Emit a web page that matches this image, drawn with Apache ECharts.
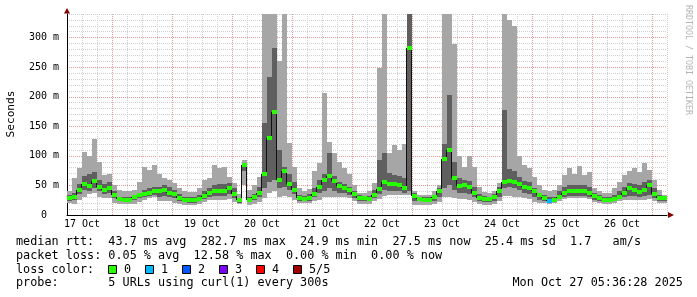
<!DOCTYPE html>
<html><head><meta charset="utf-8">
<script src="https://cdn.jsdelivr.net/npm/echarts@6/dist/echarts.min.js"></script>
<style>html,body{margin:0;padding:0;background:#fff}#c{width:697px;height:297px}</style>
</head><body><div id="c"></div>
<script>
// ---- data (2-hour steps, hours counted from 17 Oct 00:00) ----
const dayLabels = ['17 Oct','18 Oct','19 Oct','20 Oct','21 Oct','22 Oct','23 Oct','24 Oct','25 Oct','26 Oct'];
const yLabelValues = [0,50,100,150,200,250,300];
const dayBoundaries = [24,48,72,96,120,144,168,192,216,240];

const median = [28,30,42,52,49,57,47,42,45,33, 27,26,26,30,34,36,37,40,40,42, 38,35,29,26,25,25,27,32,37,41, 41,41,46,36,25,84,26,30,38,70, 130,175,60,75,52,42,28,27,29,36, 47,59,66,58,49,46,43,35,29,28, 27,33,44,55,52,52,50,46,282,32, 27,26,26,30,40,95,110,62,49,50, 47,37,29,27,27,31,40,55,58,55, 52,47,46,40,33,28,24,26,31,37, 40,41,41,40,37,32,28,25,25,27, 31,37,45,42,39,42,50,36,28,28];
const smokeMin = [20,18,25,31,35,37,31,28,28,20, 18,18,18,19,22,25,28,30,24,24, 23,21,18,17,17,17,19,22,25,26, 26,26,27,22,19,50,17,19,22,28, 38,40,30,32,30,25,21,21,21,23, 26,30,31,31,31,31,29,24,19,19, 19,23,27,32,34,34,34,34,34,17, 17,17,17,18,22,30,30,28,27,27, 25,22,19,17,17,19,23,32,32,31, 30,28,27,22,20,20,19,20,24,27, 28,28,28,28,27,22,20,19,19,20, 24,25,26,26,26,26,27,24,21,20];
const smokeLo = [24,26,35,42,40,45,40,36,38,28, 24,23,23,25,28,30,32,34,31,32, 31,28,24,22,21,21,23,27,30,32, 32,32,35,28,21,75,22,25,30,45, 55,60,45,47,42,35,24,23,24,30, 37,41,45,41,37,37,34,29,24,24, 23,28,36,42,40,40,40,38,40,24, 23,22,22,24,30,45,50,42,38,38, 36,31,24,22,22,24,30,45,48,45, 42,38,36,30,26,23,22,23,27,31, 32,32,32,32,31,26,23,22,22,23, 27,30,32,32,31,32,34,29,24,23];
const smokeHi = [33,38,52,66,70,72,60,52,55,40, 31,30,30,34,38,42,45,48,48,50, 47,42,35,31,30,30,33,40,45,50, 52,52,54,45,28,88,30,36,48,156, 234,283,110,81,70,55,34,32,35,45, 59,69,105,66,55,53,47,40,33,32, 32,42,93,105,71,68,66,62,340,37, 31,30,30,33,46,120,203,90,62,60, 58,48,35,32,31,36,48,178,78,75, 65,58,56,45,38,33,30,31,40,48, 51,51,51,50,48,38,33,30,30,33, 40,48,54,52,50,56,59,45,34,31];
const smokeMax = [40,62,80,107,99,129,90,68,70,50, 42,40,40,42,55,82,76,85,70,62, 59,54,45,40,39,39,45,60,62,85, 79,82,65,54,35,93,42,51,65,340, 340,340,260,340,122,82,45,40,44,75, 88,206,124,105,90,80,70,51,37,37, 40,54,249,340,105,119,110,120,340,40, 34,34,34,40,50,340,340,290,99,82, 99,82,48,39,37,40,54,340,330,320, 100,85,80,65,50,42,40,42,50,68, 79,70,83,68,73,45,40,37,37,45, 55,68,74,79,72,88,76,60,42,34];
const lossCount = [0,0,0,0,0,0,0,0,0,0, 0,0,0,0,0,0,0,0,0,0, 0,0,0,0,0,0,0,0,0,0, 0,0,0,0,0,0,0,0,0,0, 0,0,0,0,0,0,0,0,0,0, 0,0,0,0,0,0,0,0,0,0, 0,0,0,0,0,0,0,0,0,0, 0,0,0,0,0,0,0,0,0,0, 0,0,0,0,0,0,0,0,0,0, 0,0,0,0,0,0,1,0,0,0, 0,0,0,0,0,0,0,0,0,0, 0,0,0,0,0,0,0,0,0,0];
const lossColors = ['#26ff00','#00b8ff','#0059ff','#7e00ff','#ff0000','#a10000'];
const lossLabels = ['0','1','2','3','4','5/5'];
const statLines = [
  'median rtt:  43.7 ms avg  282.7 ms max  24.9 ms min  27.5 ms now  25.4 ms sd  1.7   am/s',
  'packet loss: 0.05 % avg  12.58 % max  0.00 % min  0.00 % now',
  'loss color:',
  'probe:       5 URLs using curl(1) every 300s'
];
const dateText = 'Mon Oct 27 05:36:28 2025';

// ---- build ----
const START_HOUR = 6, STEP_HOURS = 2;
const tStart = k => START_HOUR + k * STEP_HOURS;
const lightData = median.map((_, k) => [tStart(k), tStart(k + 1), smokeMin[k], smokeMax[k]]);
const darkData = median.map((_, k) => [tStart(k), tStart(k + 1), smokeLo[k], smokeHi[k]]);
const medData = median.map((m, k) => [tStart(k), tStart(k + 1), m, lossCount[k]]);
const connData = median.slice(0, -1).map((m, k) => [tStart(k + 1), m, median[k + 1]]);

const MONO = 'DejaVu Sans Mono';
const GRID_MINOR = '#cfcfcf';
const GRID_MAJOR = '#e39a9a';

function bandRender(color) {
  return function (params, api) {
    const a = api.coord([api.value(0), api.value(3)]);
    const b = api.coord([api.value(1), api.value(2)]);
    const x0 = Math.round(a[0]), x1 = Math.round(b[0]);
    const y0 = Math.round(a[1]), y1 = Math.round(b[1]);
    return { type: 'rect', shape: { x: x0, y: y0, width: x1 - x0, height: y1 - y0 }, style: { fill: color } };
  };
}

const chart = echarts.init(document.getElementById('c'), null, { renderer: 'canvas' });
const textFont = '11.8px "' + MONO + '"';
const graphic = [];
const lineY = [241.5, 255.5, 269.5, 283];
statLines.forEach((s, i) => {
  graphic.push({ type: 'text', x: 16, y: lineY[i], silent: true,
    style: { text: s, font: textFont, fill: '#000', textAlign: 'left', textVerticalAlign: 'middle' } });
});
lossLabels.forEach((lab, i) => {
  const bx = 108 + 37 * i;
  graphic.push({ type: 'rect', silent: true, shape: { x: bx + 0.5, y: 265.5, width: 8, height: 8 },
    style: { fill: lossColors[i], stroke: '#000', lineWidth: 1 } });
  graphic.push({ type: 'text', x: bx + 16, y: lineY[2], silent: true,
    style: { text: lab, font: textFont, fill: '#000', textAlign: 'left', textVerticalAlign: 'middle' } });
});
graphic.push({ type: 'text', x: 512.5, y: lineY[3], silent: true,
  style: { text: dateText, font: textFont, fill: '#000', textAlign: 'left', textVerticalAlign: 'middle' } });
graphic.push({ type: 'text', x: 11, y: 114, rotation: Math.PI / 2, silent: true,
  style: { text: 'Seconds', font: '11.2px "' + MONO + '"', fill: '#000', textAlign: 'center', textVerticalAlign: 'middle' } });
graphic.push({ type: 'text', x: 688.5, y: 60, rotation: -Math.PI / 2, silent: true,
  style: { text: 'RRDTOOL / TOBI OETIKER', font: '8.3px "' + MONO + '"', fill: '#b4b4b4', textAlign: 'center', textVerticalAlign: 'middle' } });
// axis arrows
graphic.push({ type: 'polygon', silent: true, shape: { points: [[67, 8], [64, 13.5], [70, 13.5]] }, style: { fill: '#800000' } });
graphic.push({ type: 'polygon', silent: true, shape: { points: [[674, 215], [668, 212], [668, 218]] }, style: { fill: '#800000' } });

const option = {
  animation: false,
  grid: { left: 67, right: 30, top: 14, bottom: 82, containLabel: false, outerBoundsMode: 'none' },
  xAxis: [{
    type: 'value', min: 6, max: 246, interval: 6,
    axisLine: { show: true, onZero: false, lineStyle: { color: '#000', width: 1 } },
    axisTick: { show: false },
    axisLabel: {
      fontFamily: MONO, fontSize: 10, color: '#000', margin: 4, hideOverlap: false,
      formatter: v => { const h = v - 12; return (h % 24 === 0 && dayLabels[h / 24]) ? dayLabels[h / 24] : ''; }
    },
    splitLine: { show: true, lineStyle: { color: GRID_MINOR, type: [1, 1], width: 1 } }
  }, {
    type: 'value', min: 6, max: 246, position: 'bottom',
    axisLine: { show: false },
    axisTick: { show: false, customValues: dayBoundaries },
    axisLabel: { show: false },
    splitLine: { show: true, lineStyle: { color: GRID_MAJOR, type: [1, 1], width: 1 } }
  }],
  yAxis: [{
    type: 'value', min: 0, max: 340, interval: 10, position: 'left',
    axisLine: { show: true, lineStyle: { color: '#000', width: 1 } },
    axisTick: { show: false },
    axisLabel: {
      fontFamily: MONO, fontSize: 10, color: '#000', margin: 8,
      formatter: v => yLabelValues.indexOf(v) >= 0 ? (v === 0 ? '0  ' : v + ' m') : ''
    },
    splitLine: { show: true, lineStyle: { color: GRID_MINOR, type: [1, 1], width: 1 } }
  }, {
    type: 'value', min: 0, max: 340, interval: 50, position: 'left',
    axisLine: { show: false }, axisTick: { show: false }, axisLabel: { show: false },
    splitLine: { show: true, showMaxLine: false, showMinLine: false, lineStyle: { color: GRID_MAJOR, type: [1, 1], width: 1 } }
  }],
  series: [
    { type: 'custom', name: 'smoke', data: lightData, encode: { x: [0, 1], y: [2, 3] }, z: 2, silent: true,
      renderItem: bandRender('#a6a6a6') },
    { type: 'custom', name: 'smoke inner', data: darkData, encode: { x: [0, 1], y: [2, 3] }, z: 3, silent: true,
      renderItem: bandRender('#5f5f5f') },
    { type: 'custom', name: 'median link', data: connData, encode: { x: 0, y: [1, 2] }, z: 4, silent: true,
      renderItem: function (params, api) {
        const a = api.coord([api.value(0), api.value(1)]);
        const b = api.coord([api.value(0), api.value(2)]);
        const x = Math.round(a[0]) - 0.5;
        return { type: 'line', shape: { x1: x, y1: Math.round(a[1]), x2: x, y2: Math.round(b[1]) },
          style: { stroke: '#101010', lineWidth: 1 } };
      } },
    { type: 'custom', name: 'median rtt', data: medData, encode: { x: [0, 1], y: 2 }, z: 5, silent: true,
      renderItem: function (params, api) {
        const a = api.coord([api.value(0), api.value(2)]);
        const b = api.coord([api.value(1), api.value(2)]);
        const x0 = Math.round(a[0]), x1 = Math.round(b[0]);
        const yc = Math.round(a[1]);
        return { type: 'rect', shape: { x: x0, y: yc - 2, width: x1 - x0, height: 4 },
          style: { fill: lossColors[api.value(3)] } };
      } }
  ],
  graphic: graphic
};
chart.setOption(option);
</script>
</body></html>
